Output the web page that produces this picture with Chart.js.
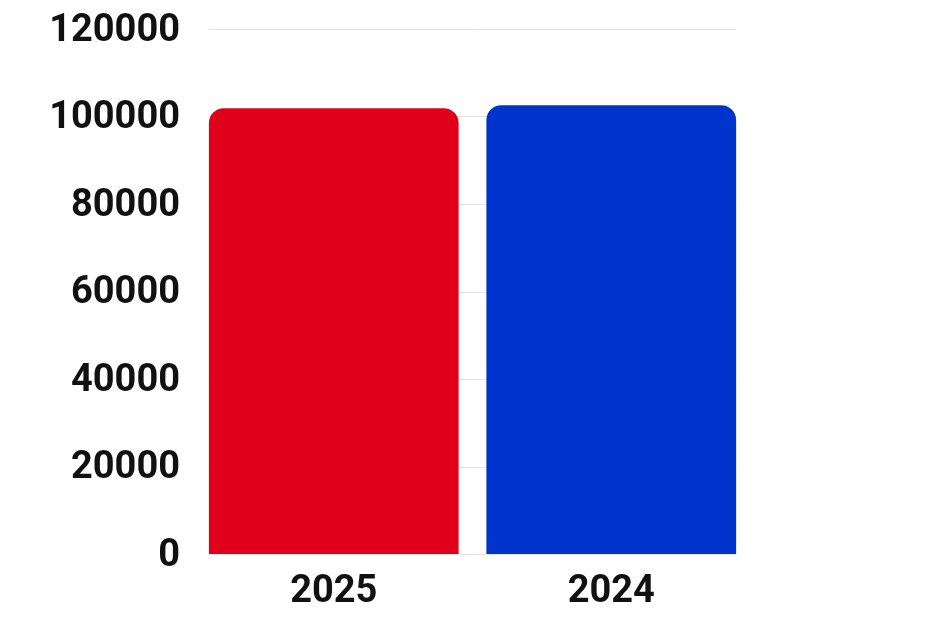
<!DOCTYPE html>
<html><head><meta charset="utf-8">
<script src="https://cdn.jsdelivr.net/npm/chart.js@4"></script>
<style>html,body{margin:0;padding:0;background:#fff}#wrap{width:936px;height:624px}</style>
</head><body><div id="wrap"><canvas id="c" width="936" height="624"></canvas></div>
<script>
const categories = ["2025", "2024"];
const values = [101900, 102600];
const barColors = ["#e0001b", "#0033cc"];
const yTicks = [0, 20000, 40000, 60000, 80000, 100000, 120000];

const gridPlugin = {
  id: 'barGrid',
  beforeDatasetsDraw(chart) {
    const ctx = chart.ctx, y = chart.scales.y;
    const bars = chart.getDatasetMeta(0).data;
    const x0 = bars[0].x - bars[0].width / 2;
    const x1 = bars[bars.length - 1].x + bars[bars.length - 1].width / 2;
    ctx.save();
    ctx.strokeStyle = '#e3e3e3';
    ctx.lineWidth = 1;
    yTicks.forEach(v => {
      const py = Math.round(y.getPixelForValue(v)) + 0.5;
      ctx.beginPath(); ctx.moveTo(x0, py); ctx.lineTo(x1, py); ctx.stroke();
    });
    ctx.restore();
  }
};

new Chart(document.getElementById('c'), {
  type: 'bar',
  data: { labels: categories, datasets: [{ data: values, backgroundColor: barColors,
    borderRadius: { topLeft: 15, topRight: 15, bottomLeft: 0, bottomRight: 0 }, borderSkipped: 'start',
    barPercentage: 0.9, categoryPercentage: 1.0 }] },
  options: {
    responsive: false, animation: false, devicePixelRatio: 1,
    layout: { padding: { top: 29, right: 186, left: 0, bottom: 0 } },
    plugins: { legend: { display: false }, tooltip: { enabled: false } },
    scales: {
      x: {
        grid: { display: false }, border: { display: false },
        ticks: { color: '#111', font: { family: 'Roboto', weight: 'bold', size: 38 }, padding: 8 },
        afterFit: (s) => { s.height = 70; }
      },
      y: {
        min: 0, max: 120000,
        afterBuildTicks: (s) => { s.ticks = yTicks.map(v => ({ value: v })); },
        grid: { display: false, drawTicks: false }, border: { display: false },
        ticks: { color: '#111', font: { family: 'Roboto', weight: 'bold', size: 38, lineHeight: 0.5 }, padding: 15,
          labelOffset: 2, callback: (v) => String(v) },
        afterFit: (s) => { s.width = 195; s.paddingTop = 0; }
      }
    }
  },
  plugins: [gridPlugin]
});
</script></body></html>
